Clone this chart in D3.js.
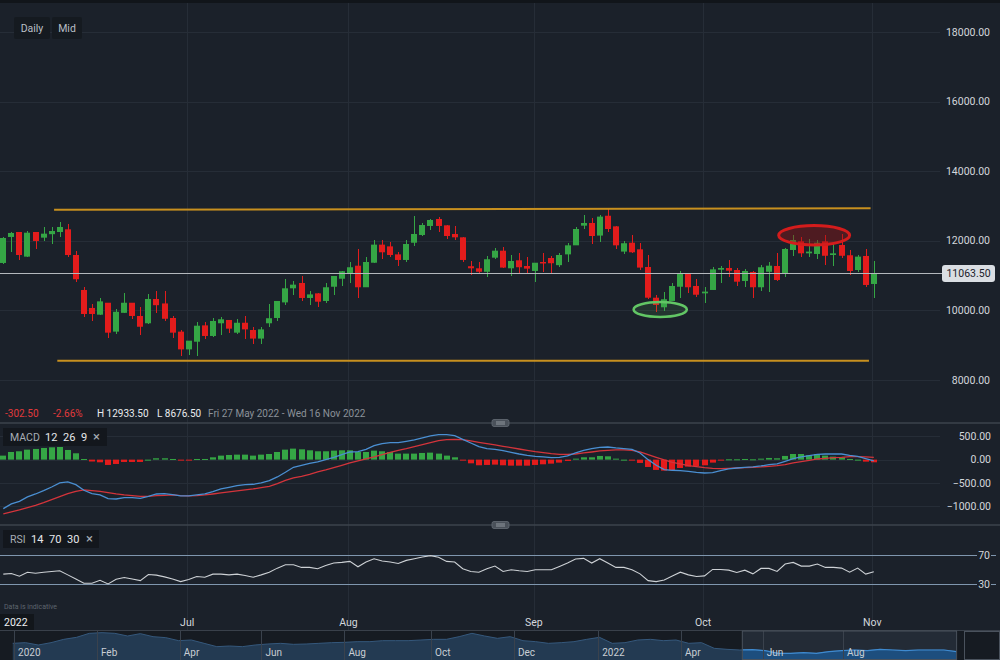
<!DOCTYPE html>
<html>
<head>
<meta charset="utf-8">
<script src="https://cdn.jsdelivr.net/npm/d3@7"></script>
<style>
html, body { margin: 0; padding: 0; background: #1b212a; }
svg { display: block; font-family: Roboto, "Noto Sans", sans-serif; }
</style>
</head>
<body>
<script>
// trading days: 27 May 2022 .. 1 Nov 2022 (US calendar)
var startDate = "2022-05-27", endDate = "2022-11-01";
var holidays = ["2022-05-30", "2022-06-20", "2022-07-04", "2022-09-05"];

var opens = [11363,12110,12253,11545,12253,12090,12190,12253,12330,11592,
  10587,10070,9877,10220,9390,9930,10220,9840,9630,10328,
  10200,9782,9390,8880,9100,9570,9265,9630,9725,9360,
  9645,9437,9190,9630,9782,10230,10635,10788,10357,10490,
  10271,10680,10910,11067,11285,10665,11370,11890,11840,11610,
  11449,11945,12167,12426,12627,12445,12196,12100,11270,11210,
  11110,11515,11716,11210,11440,11276,11133,11391,11506,11300,
  11610,11870,12435,12512,12150,12720,12415,11690,11945,11755,
  11248,10365,10090,10271,10680,11055,10702,10490,10587,11170,
  11219,11161,10845,11104,10665,11110,11276,11067,11736,11985,
  11640,11621,11985,11592,11880,11585,11161,11564,10759];
var highs = [12110,12253,12265,12291,12260,12405,12390,12550,12483,11716,
  10665,10185,10350,10220,10030,10490,10220,10090,10460,10570,
  10550,9840,9437,9130,9667,9667,9770,9800,9725,9745,
  9840,9530,9530,10185,10271,10895,10855,10989,10550,10490,
  10800,10989,11125,11391,11765,11545,12023,12023,11960,11690,
  12023,12713,12505,12627,12680,12445,12426,12100,11420,11391,
  11564,11800,11810,11592,11660,11545,11370,11660,11564,11660,
  11945,12390,12740,12645,12740,12933.5,12415,11990,12167,11930,
  11585,10443,10529,10800,11133,11055,10903,10665,11255,11276,
  11449,11210,11180,11140,11305,11400,11640,11785,12167,12100,
  12045,12023,12167,11975,12187,11736,11592,11755,11420];
var lows = [11334,11679,11449,11535,11765,12003,11908,12120,11545,10825,
  9820,9705,9869,9215,9322,9926,9760,9294,9610,9930,
  9705,9200,8690,8718,8676.5,9190,9230,9294,9340,9322,
  9170,9035,9035,9530,9705,10150,10443,10280,10150,10110,
  10200,10443,10702,10780,10350,10665,11355,11477,11525,11285,
  11391,11860,12150,12311,12260,12060,12023,11400,11018,11047,
  10970,11485,11230,10990,11070,11070,10825,11110,11070,11255,
  11400,11870,12330,11900,11960,12245,11765,11610,11640,11161,
  10335,9960,9975,10271,10350,10510,10380,10220,10587,10780,
  10950,10710,10665,10350,10570,10540,10845,10970,11570,11545,
  11545,11477,11295,11285,11495,11018,11110,10665,10365];
var closes = [12081,12225,11592,12233,11995,12205,12282,12397,11592,10895,
  9897,9897,10260,9360,9960,10220,9840,9530,10328,10150,
  9760,9360,8880,9130,9560,9265,9696,9745,9475,9645,
  9455,9190,9455,9775,10271,10635,10740,10357,10460,10250,
  10665,10989,11125,11240,10665,11391,11890,11670,11592,11449,
  11908,12196,12454,12598,12426,12138,12100,11449,11210,11110,
  11470,11716,11230,11420,11240,11200,11370,11370,11355,11592,
  11870,12339,12512,12138,12695,12339,11870,11930,11670,11230,
  10365,10156,10320,10702,11067,10665,10450,10540,11180,11219,
  11140,10825,11133,10665,11240,11285,10874,11765,12023,11640,
  11690,11945,11570,11640,11570,11133,11545,10731,11063.5];

var macdLine = [-1050,-950,-893,-800,-736,-664,-586,-500,-478,-536,
  -657,-729,-757,-836,-843,-814,-814,-828,-786,-736,
  -729,-750,-778,-778,-757,-736,-686,-628,-593,-557,
  -536,-528,-500,-450,-371,-271,-164,-121,-79,-50,
  0,50,107,164,171,221,300,343,364,364,
  393,421,464,507,536,536,514,436,357,278,
  236,221,193,157,121,93,71,57,43,50,
  79,143,200,236,264,271,250,236,221,143,
  0,-121,-214,-228,-236,-250,-271,-286,-278,-236,
  -200,-179,-164,-157,-136,-107,-93,-36,21,57,
  86,114,121,121,121,93,71,21,-29];
var signalLine = [-1160,-1121,-1078,-1028,-978,-921,-857,-793,-728,-678,
  -650,-664,-678,-707,-736,-757,-771,-786,-786,-771,
  -764,-757,-771,-778,-771,-757,-736,-714,-693,-671,
  -650,-628,-600,-571,-514,-443,-390,-357,-314,-264,
  -221,-171,-121,-71,-29,14,57,107,157,200,
  236,278,321,364,407,428,436,428,400,371,
  343,314,286,257,228,200,171,150,129,114,
  114,121,143,164,186,200,207,207,200,164,
  107,50,-7,-57,-93,-129,-150,-171,-186,-193,
  -186,-179,-171,-164,-157,-143,-129,-107,-71,-43,
  -14,14,29,43,50,64,64,57,50];
var macdHist = [86,164,179,214,229,250,264,271,207,136,
  14,-40,-57,-114,-93,-50,-50,-50,0,29,
  29,14,-14,-14,14,14,50,86,100,107,
  107,86,107,121,164,214,236,221,200,179,
  179,193,200,200,164,164,193,179,164,129,
  129,129,143,150,129,86,50,-7,-79,-121,
  -114,-107,-121,-129,-129,-129,-114,-100,-86,-64,
  -29,21,50,50,79,71,21,0,-14,-71,
  -157,-221,-236,-229,-179,-150,-136,-121,-64,-14,
  7,7,14,7,21,36,29,79,121,121,
  93,121,86,64,50,14,0,-43,-57];
var rsi = [44.0,44.9,41.2,46.7,45.3,46.7,47.7,48.6,43.0,37.4,
  31.4,31.4,35.6,30.5,37.0,39.3,37.4,35.1,43.5,42.6,
  40.2,37.4,33.7,36.5,40.7,39.8,44.0,44.0,43.0,44.0,
  42.1,39.8,43.0,46.7,52.3,57.0,57.0,53.3,53.3,51.4,
  56.0,59.3,60.2,61.6,54.2,60.7,65.3,62.1,60.7,58.8,
  63.0,65.3,67.7,69.5,67.2,61.6,60.7,51.4,47.7,46.7,
  51.4,55.1,47.7,50.0,48.6,47.7,50.0,50.0,50.0,54.6,
  59.3,64.9,65.8,59.3,65.3,59.3,53.3,53.3,50.0,44.4,
  35.1,33.7,36.0,41.6,46.7,43.0,40.7,41.6,50.5,50.5,
  49.5,46.3,49.5,44.4,51.9,51.9,47.7,57.9,60.2,55.1,
  55.1,57.9,53.3,53.3,52.3,46.7,52.3,44.0,47.2];

// navigator overview series
var navValues = [14667,14933,14000,14933,16267,17067,18667,18933,18667,17600,
  18533,17333,16933,15733,16000,14667,13333,13600,13333,14000,
  14400,14667,14267,14400,14667,14933,15067,15333,15333,15733,
  15733,15733,16000,16267,16267,17333,18667,17600,16667,17333,
  15733,15333,14667,14933,15333,16267,17067,14667,14933,16000,
  16267,15733,16000,14667,14933,12667,12267,12000,12133,11733,
  10667,10667,10933,10667,11333,11733,12000,11733,12267,12000,
  11733,12000,12000,12000,11333];
var navLabels = ["2020", "Feb", "Apr", "Jun", "Aug", "Oct", "Dec", "2022", "Apr", "Jun", "Aug"];
var navLabelAt = [0.1, 6.6, 13.1, 19.5, 26, 32.8, 39.3, 45.9, 52.4, 58.8, 65.1];
var navWindow = [57.2, 74];

var priceTicks = [8000, 10000, 12000, 14000, 16000, 18000];
var macdTicks = [500, 0, -500, -1000];
var rsiTicks = [70, 30];

// drawn trend lines [index, price] and highlight ellipses
var resistance = [[6.3, 12890], [107.6, 12935]];
var support = [[6.7, 8555], [107.4, 8555]];
var lowZone = {i: 81.5, p: 10026, di: 3.3, dp: 216};
var highZone = {i: 100.6, p: 12158, di: 4.4, dp: 279};

var lastPrice = 11063.5;
var infoChange = "-302.50", infoPct = "-2.66%", infoHigh = "H 12933.50", infoLow = "L 8676.50";
var infoRange = "Fri 27 May 2022 - Wed 16 Nov 2022";

var parse = d3.timeParse("%Y-%m-%d"), fmt = d3.timeFormat("%Y-%m-%d");
var dates = d3.timeDay.range(parse(startDate), d3.timeDay.offset(parse(endDate), 1))
  .filter(function(d) { return d.getDay() % 6 !== 0 && holidays.indexOf(fmt(d)) < 0; });

var W = 1000, H = 660;
var up = "#35a645", down = "#e31c1c";
var axisText = "#d3d7dc";

var svg = d3.select("body").append("svg").attr("width", W).attr("height", H);
svg.append("rect").attr("width", W).attr("height", H).attr("fill", "#1b212a");
svg.append("rect").attr("width", W).attr("height", 3).attr("fill", "#11151a");

var x = d3.scaleLinear().domain([0, dates.length - 1]).range([3.3, 873.8]);
var y = d3.scaleLinear().domain([8000, 18000]).range([380, 32]);
var yM = d3.scaleLinear().domain([-1000, 500]).range([506.3, 436.3]);
var yR = d3.scaleLinear().domain([30, 70]).range([584.3, 555.3]);

function px(v) { return Math.round(v) + 0.5; }

// grid
var grid = svg.append("g").attr("stroke", "#262d37").attr("stroke-width", 1);
grid.selectAll(".pg").data(priceTicks).enter().append("line")
  .attr("x1", 0).attr("x2", 940)
  .attr("y1", function(d) { return px(y(d)); }).attr("y2", function(d) { return px(y(d)); });
grid.selectAll(".mg").data(macdTicks).enter().append("line")
  .attr("x1", 0).attr("x2", 940)
  .attr("y1", function(d) { return px(yM(d)); }).attr("y2", function(d) { return px(yM(d)); });

// month starts; the one under the year box at the far left is not shown
var monthIdx = d3.range(1, dates.length).filter(function(i) {
  return dates[i].getMonth() !== dates[i - 1].getMonth() && x(i) > 40;
});
grid.selectAll(".vg").data(monthIdx).enter().append("line")
  .attr("x1", function(i) { return px(x(i) - 1.5); })
  .attr("x2", function(i) { return px(x(i) - 1.5); })
  .attr("y1", 3).attr("y2", 630);

// top buttons
var btns = svg.append("g");
[["Daily", 14, 36], ["Mid", 52, 30]].forEach(function(b) {
  btns.append("rect").attr("x", b[1]).attr("y", 17).attr("width", b[2]).attr("height", 22)
    .attr("rx", 2).attr("fill", "#151a20");
  btns.append("text").attr("x", b[1] + b[2] / 2).attr("y", 32).attr("text-anchor", "middle")
    .attr("font-size", 10.5).attr("fill", "#b9bfc6").text(b[0]);
});

// candles
var candle = svg.append("g").selectAll("g").data(dates).enter().append("g")
  .attr("class", "candle");
function col(i) { return closes[i] >= opens[i] ? up : down; }
candle.append("line")
  .attr("x1", function(d, i) { return Math.round(x(i)); })
  .attr("x2", function(d, i) { return Math.round(x(i)); })
  .attr("y1", function(d, i) { return y(highs[i]); })
  .attr("y2", function(d, i) { return y(lows[i]); })
  .attr("stroke", function(d, i) { return col(i); })
  .attr("shape-rendering", "crispEdges");
candle.append("rect")
  .attr("x", function(d, i) { return Math.round(x(i)) - 3; })
  .attr("width", 6)
  .attr("y", function(d, i) { return y(Math.max(opens[i], closes[i])); })
  .attr("height", function(d, i) { return Math.max(1.5, Math.abs(y(opens[i]) - y(closes[i]))); })
  .attr("fill", function(d, i) { return col(i); });

// trend lines
var tl = d3.line().x(function(d) { return x(d[0]); }).y(function(d) { return y(d[1]); });
svg.selectAll(".trend").data([resistance, support]).enter().append("path")
  .attr("d", tl).attr("stroke", "#c8901f").attr("stroke-width", 2).attr("fill", "none");

// zones
svg.append("ellipse")
  .attr("cx", x(lowZone.i)).attr("cy", y(lowZone.p))
  .attr("rx", x(lowZone.di) - x(0)).attr("ry", y(0) - y(lowZone.dp))
  .attr("fill", "rgba(99,196,102,0.12)").attr("stroke", "#62c665").attr("stroke-width", 2.5);
svg.append("ellipse")
  .attr("cx", x(highZone.i)).attr("cy", y(highZone.p))
  .attr("rx", x(highZone.di) - x(0)).attr("ry", y(0) - y(highZone.dp))
  .attr("fill", "rgba(150,20,22,0.42)").attr("stroke", "#d41c1c").attr("stroke-width", 3);

// last price line and tag
svg.append("line").attr("x1", 0).attr("x2", 942)
  .attr("y1", px(y(lastPrice))).attr("y2", px(y(lastPrice)))
  .attr("stroke", "#b4b8bd").attr("stroke-width", 1);

// price axis
svg.append("g").selectAll("text").data(priceTicks).enter().append("text")
  .attr("x", 990).attr("y", function(d) { return y(d); }).attr("dy", "0.35em")
  .attr("text-anchor", "end").attr("font-size", 10.5).attr("fill", axisText)
  .text(function(d) { return d3.format(".2f")(d); });

svg.append("rect").attr("x", 942).attr("y", y(lastPrice) - 8.5).attr("width", 53).attr("height", 17)
  .attr("rx", 3).attr("fill", "#dadee3");
svg.append("text").attr("x", 968.5).attr("y", y(lastPrice)).attr("dy", "0.35em")
  .attr("text-anchor", "middle").attr("font-size", 10.5).attr("fill", "#1b212a")
  .text(d3.format(".2f")(lastPrice));

// info line
var info = svg.append("g").attr("font-size", 10);
info.append("text").attr("x", 5).attr("y", 417).attr("fill", "#e13a3c").text(infoChange);
info.append("text").attr("x", 53).attr("y", 417).attr("fill", "#e13a3c").text(infoPct);
info.append("text").attr("x", 97).attr("y", 417).attr("fill", "#e9ebee").text(infoHigh);
info.append("text").attr("x", 157).attr("y", 417).attr("fill", "#e9ebee").text(infoLow);
info.append("text").attr("x", 208).attr("y", 417).attr("fill", "#8b9199").text(infoRange);

// panel separators
[423, 525].forEach(function(sy) {
  svg.append("line").attr("x1", 0).attr("x2", W).attr("y1", sy).attr("y2", sy)
    .attr("stroke", "#3c434c").attr("stroke-width", 1.5);
  svg.append("rect").attr("x", 492).attr("y", sy - 3.5).attr("width", 17).attr("height", 7)
    .attr("rx", 2).attr("fill", "#4a515a").attr("stroke", "#666d76").attr("stroke-width", 0.8);
  svg.append("line").attr("x1", 496).attr("x2", 505).attr("y1", sy - 1).attr("y2", sy - 1)
    .attr("stroke", "#a3a9b0").attr("stroke-width", 0.8);
  svg.append("line").attr("x1", 496).attr("x2", 505).attr("y1", sy + 1).attr("y2", sy + 1)
    .attr("stroke", "#a3a9b0").attr("stroke-width", 0.8);
});

// indicator legends
function legend(yTop, w, parts) {
  var g = svg.append("g");
  g.append("rect").attr("x", 3).attr("y", yTop).attr("width", w).attr("height", 18)
    .attr("fill", "#13171d");
  parts.forEach(function(p) {
    g.append("text").attr("x", p[1]).attr("y", yTop + 13).attr("font-size", p[3] || 11)
      .attr("fill", p[2]).text(p[0]);
  });
}
legend(428, 104, [["MACD", 10, "#a7adb4", 10.5], ["12", 45, "#e6e8eb"], ["26", 63, "#e6e8eb"],
  ["9", 81, "#e6e8eb"], ["\u00d7", 93, "#a7adb4", 13]]);
legend(530, 96, [["RSI", 10, "#a7adb4", 10.5], ["14", 31, "#e6e8eb"], ["70", 49, "#e6e8eb"],
  ["30", 67, "#e6e8eb"], ["\u00d7", 86, "#a7adb4", 13]]);

// MACD histogram
svg.append("g").selectAll("rect").data(macdHist).enter().append("rect")
  .attr("x", function(d, i) { return Math.round(x(i)) - 3; })
  .attr("width", 6)
  .attr("y", function(d) { return Math.min(yM(d), yM(0)); })
  .attr("height", function(d) { return Math.max(1, Math.abs(yM(d) - yM(0))); })
  .attr("fill", function(d) { return d >= 0 ? up : down; });

var lineM = d3.line().x(function(d, i) { return x(i); }).y(function(d) { return yM(d); });
svg.append("path").attr("d", lineM(signalLine)).attr("fill", "none")
  .attr("stroke", "#d3343b").attr("stroke-width", 1.3);
svg.append("path").attr("d", lineM(macdLine)).attr("fill", "none")
  .attr("stroke", "#4a8fd2").attr("stroke-width", 1.3);

svg.append("g").selectAll("text").data(macdTicks).enter().append("text")
  .attr("x", 991).attr("y", function(d) { return yM(d); }).attr("dy", "0.35em")
  .attr("text-anchor", "end").attr("font-size", 10.5).attr("fill", axisText)
  .text(function(d) { return d3.format(".2f")(d); });

// RSI
svg.append("g").selectAll("line").data(rsiTicks).enter().append("line")
  .attr("x1", 0).attr("x2", 977)
  .attr("y1", function(d) { return px(yR(d)); }).attr("y2", function(d) { return px(yR(d)); })
  .attr("stroke", "#7f96ae").attr("stroke-width", 1);
svg.append("g").selectAll("line").data(rsiTicks).enter().append("line")
  .attr("x1", 991).attr("x2", 996)
  .attr("y1", function(d) { return px(yR(d)); }).attr("y2", function(d) { return px(yR(d)); })
  .attr("stroke", "#7f96ae").attr("stroke-width", 1);
svg.append("g").selectAll("text").data(rsiTicks).enter().append("text")
  .attr("x", 990).attr("y", function(d) { return yR(d); }).attr("dy", "0.35em")
  .attr("text-anchor", "end").attr("font-size", 10.5).attr("fill", axisText)
  .text(function(d) { return d; });
var lineR = d3.line().x(function(d, i) { return x(i); }).y(function(d) { return yR(d); });
svg.append("path").attr("d", lineR(rsi)).attr("fill", "none")
  .attr("stroke", "#cdd1d5").attr("stroke-width", 1.1);

svg.append("text").attr("x", 4).attr("y", 609).attr("font-size", 7)
  .attr("fill", "#5e656e").text("Data is indicative");

// time axis
svg.append("g").selectAll("text").data(monthIdx).enter().append("text")
  .attr("x", function(i) { return x(i) - 1.5; }).attr("y", 626)
  .attr("text-anchor", "middle").attr("font-size", 10.5).attr("fill", axisText)
  .text(function(i) { return d3.timeFormat("%b")(dates[i]); });
svg.append("rect").attr("x", 0).attr("y", 614).attr("width", 34).attr("height", 16).attr("fill", "#12161b");
svg.append("text").attr("x", 4).attr("y", 626).attr("font-size", 10.5).attr("fill", "#eef0f2")
  .text(d3.timeFormat("%Y")(dates[0]));

// navigator
var xN = d3.scaleLinear().domain([0, navValues.length - 1]).range([12.76, 956.6]);
var yN = d3.scaleLinear().domain([8000, 20000]).range([660, 630]);
svg.append("rect").attr("x", 0).attr("y", 630).attr("width", W).attr("height", 30).attr("fill", "#161b22");
svg.append("line").attr("x1", 0).attr("x2", W).attr("y1", 630.5).attr("y2", 630.5).attr("stroke", "#39404a");
svg.append("rect").attr("x", xN(navWindow[0])).attr("y", 631).attr("width", xN(navWindow[1]) - xN(navWindow[0]))
  .attr("height", 29).attr("fill", "#232b36");

var areaN = d3.area().x(function(d, i) { return xN(i); }).y0(660).y1(function(d) { return yN(d); });
var lineN = d3.line().x(function(d, i) { return xN(i); }).y(function(d) { return yN(d); });
svg.append("path").attr("d", areaN(navValues)).attr("fill", "#233a52");
svg.append("path").attr("d", lineN(navValues)).attr("fill", "none").attr("stroke", "#35587c").attr("stroke-width", 1);

svg.append("clipPath").attr("id", "win").append("rect")
  .attr("x", xN(navWindow[0])).attr("y", 630).attr("width", xN(navWindow[1]) - xN(navWindow[0])).attr("height", 30);
var winG = svg.append("g").attr("clip-path", "url(#win)");
winG.append("path").attr("d", areaN(navValues)).attr("fill", "#1d4e7e");
winG.append("path").attr("d", lineN(navValues)).attr("fill", "none").attr("stroke", "#3e8ad0").attr("stroke-width", 1.2);

svg.append("g").selectAll("line").data(navLabelAt).enter().append("line")
  .attr("x1", function(d) { return px(xN(d)); }).attr("x2", function(d) { return px(xN(d)); })
  .attr("y1", 631).attr("y2", 660).attr("stroke", "#3a424d").attr("stroke-width", 1);
svg.append("g").selectAll("text").data(navLabels).enter().append("text")
  .attr("x", function(d, i) { return xN(navLabelAt[i]) + 4; }).attr("y", 656)
  .attr("font-size", 10).attr("fill", "#c9ced4").text(function(d) { return d; });

svg.append("rect").attr("x", xN(navWindow[0])).attr("y", 631)
  .attr("width", xN(navWindow[1]) - xN(navWindow[0])).attr("height", 28.5)
  .attr("fill", "none").attr("stroke", "#4a525d").attr("stroke-width", 1);
svg.append("rect").attr("x", 964.5).attr("y", 631.5).attr("width", 35).attr("height", 28)
  .attr("fill", "#161b22").attr("stroke", "#4a525d").attr("stroke-width", 1);
</script>
</body>
</html>
